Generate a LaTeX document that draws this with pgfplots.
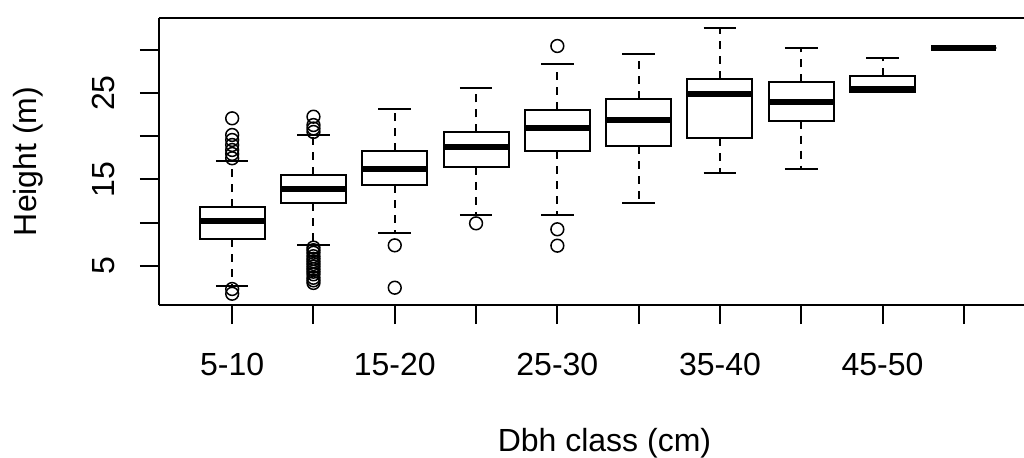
\documentclass[border=0pt]{standalone}
\usepackage{pgfplots}
\pgfplotsset{compat=1.18}
\usepgfplotslibrary{statistics}
\usepackage{fontspec}
\setmainfont{Liberation Sans}

% R-style box: solid box, thick median, dashed whisker stems, solid caps
\pgfplotsset{
  rbox/.style={
    black, solid, line width=1pt,
    mark=o, mark size=3.2pt, mark options={solid, line width=0.75pt},
    boxplot/draw direction=y,
    boxplot/box extend=0.8,
    boxplot/whisker extend=0.4,
    boxplot/every median/.style={line width=2.9pt},
    boxplot/draw/lower whisker/.code={%
      \draw[dash pattern=on 4pt off 3.5pt]
        (boxplot whisker cs:\pgfplotsboxplotvalue{lower quartile},0.5) --
        (boxplot whisker cs:\pgfplotsboxplotvalue{lower whisker},0.5);
      \draw
        (boxplot whisker cs:\pgfplotsboxplotvalue{lower whisker},0) --
        (boxplot whisker cs:\pgfplotsboxplotvalue{lower whisker},1);
    },
    boxplot/draw/upper whisker/.code={%
      \draw[dash pattern=on 4pt off 3.5pt]
        (boxplot whisker cs:\pgfplotsboxplotvalue{upper quartile},0.5) --
        (boxplot whisker cs:\pgfplotsboxplotvalue{upper whisker},0.5);
      \draw
        (boxplot whisker cs:\pgfplotsboxplotvalue{upper whisker},0) --
        (boxplot whisker cs:\pgfplotsboxplotvalue{upper whisker},1);
    },
  },
}

\begin{document}
\fontsize{16}{19}\selectfont
\begin{tikzpicture}
\begin{axis}[
  scale only axis,
  width=432.5pt, height=143.65pt,
  xmin=0.1, xmax=10.74,
  ymin=0.445, ymax=33.74,
  axis x line*=box, axis y line*=left,
  axis line style={line width=1pt, black},
  xtick pos=left, ytick pos=left,
  tick align=outside,
  major tick length=9.5pt,
  tick style={line width=1pt, black},
  xtick={1,...,10},
  xticklabels={5-10,,15-20,,25-30,,35-40,,45-50,},
  ytick={5,10,...,30},
  yticklabels={5,,15,,25,},
  /pgf/number format/assume math mode=true,
  xticklabel style={anchor=base},
  xticklabel shift=25.85pt,
  yticklabel style={rotate=90, anchor=base},
  yticklabel shift=12.5pt,
  xlabel={Dbh class (cm)},
  ylabel={Height (m)},
  every axis x label/.style={at={([yshift=-73pt]rel axis cs:0.515,0)}, anchor=base},
  every axis y label/.style={at={([xshift=-61pt]rel axis cs:0,0.5)}, rotate=90, anchor=base},
]
% 5-10
\addplot[rbox, boxplot prepared={draw position=1,
  lower whisker=2.68, lower quartile=8.06, median=10.18,
  upper quartile=11.80, upper whisker=17.13}]
  table[row sep=\\, y index=0] {h\\ 22.08\\ 20.15\\ 19.57\\ 18.99\\ 18.41\\ 17.95\\ 17.45\\ 2.3\\ 1.75\\};
% 10-15
\addplot[rbox, boxplot prepared={draw position=2,
  lower whisker=7.36, lower quartile=12.23, median=13.89,
  upper quartile=15.55, upper whisker=20.15}]
  table[row sep=\\, y index=0] {h\\ 22.27\\ 21.3\\ 20.9\\ 20.5\\ 7.1\\ 6.8\\ 6.5\\ 6.1\\ 5.8\\ 5.5\\ 5.2\\ 4.9\\ 4.6\\ 4.3\\ 4.0\\ 3.6\\ 3.3\\ 3.0\\};
% 15-20
\addplot[rbox, boxplot prepared={draw position=3,
  lower whisker=8.75, lower quartile=14.32, median=16.21,
  upper quartile=18.29, upper whisker=23.2}]
  table[row sep=\\, y index=0] {h\\ 7.36\\ 2.45\\};
% 20-25
\addplot[rbox, boxplot prepared={draw position=4,
  lower whisker=10.84, lower quartile=16.44, median=18.79,
  upper quartile=20.46, upper whisker=25.56}]
  table[row sep=\\, y index=0] {h\\ 9.91\\};
% 25-30
\addplot[rbox, boxplot prepared={draw position=5,
  lower whisker=10.84, lower quartile=18.29, median=20.92,
  upper quartile=23.05, upper whisker=28.34}]
  table[row sep=\\, y index=0] {h\\ 30.46\\ 9.22\\ 7.32\\};
% 30-35
\addplot[rbox, boxplot prepared={draw position=6,
  lower whisker=12.27, lower quartile=18.84, median=21.85,
  upper quartile=24.36, upper whisker=29.54}]
  coordinates {};
% 35-40
\addplot[rbox, boxplot prepared={draw position=7,
  lower whisker=15.74, lower quartile=19.77, median=24.87,
  upper quartile=26.67, upper whisker=32.51}]
  coordinates {};
% 40-45
\addplot[rbox, boxplot prepared={draw position=8,
  lower whisker=16.21, lower quartile=21.81, median=23.94,
  upper quartile=26.26, upper whisker=30.2}]
  coordinates {};
% 45-50
\addplot[rbox, boxplot prepared={draw position=9,
  lower whisker=25.13, lower quartile=25.13, median=25.48,
  upper quartile=26.95, upper whisker=29.04}]
  coordinates {};
% 50-55
\addplot[rbox, boxplot prepared={draw position=10,
  lower whisker=30.2, lower quartile=30.2, median=30.2,
  upper quartile=30.2, upper whisker=30.2}]
  coordinates {};
\coordinate (sw) at (rel axis cs:0,0);
\coordinate (ne) at (rel axis cs:1,1);
\end{axis}
\pgfresetboundingbox
\path[use as bounding box] ([shift={(-79.5pt,-76pt)}]sw) rectangle ([shift={(0pt,8.85pt)}]ne);
\end{tikzpicture}
\end{document}
